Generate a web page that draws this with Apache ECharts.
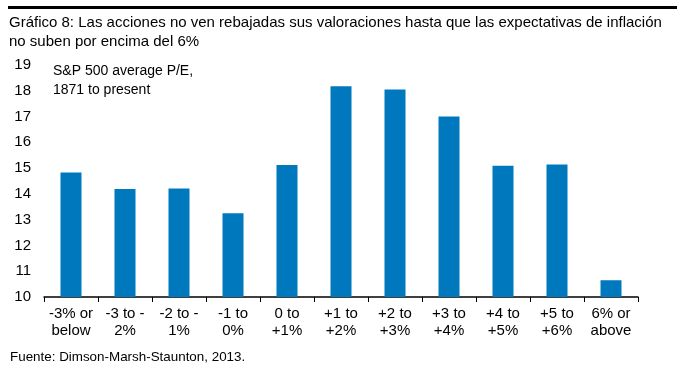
<!DOCTYPE html>
<html><head><meta charset="utf-8">
<script src="https://cdn.jsdelivr.net/npm/echarts@6/dist/echarts.min.js"></script>
<style>html,body{margin:0;padding:0;background:#fff}#c{width:681px;height:369px}</style>
</head><body><div id="c"></div>
<script>
const categories = ["-3% or\nbelow","-3 to -\n2%","-2 to -\n1%","-1 to\n0%","0 to\n+1%","+1 to\n+2%","+2 to\n+3%","+3 to\n+4%","+4 to\n+5%","+5 to\n+6%","6% or\nabove"];
const peValues = [14.83, 14.19, 14.21, 13.25, 15.12, 18.18, 18.05, 17.0, 15.09, 15.14, 10.65];
const titleLines = ["Gráfico 8: Las acciones no ven rebajadas sus valoraciones hasta que las expectativas de inflación", "no suben por encima del 6%"];
const annotation = ["S&P 500 average P/E,", "1871 to present"];
const sourceText = "Fuente: Dimson-Marsh-Staunton, 2013.";
const font = "Liberation Sans, Arial, sans-serif";

const chart = echarts.init(document.getElementById('c'));
chart.setOption({
  animation: false,
  grid: {left: 44, top: 65, width: 594, height: 232, containLabel: false},
  xAxis: {
    type: 'category', data: categories,
    axisLine: {show: true, lineStyle: {color: '#000', width: 1.5}},
    axisTick: {show: true, interval: 0, length: 5, lineStyle: {color: '#000'}},
    axisLabel: {interval: 0, color: '#000', fontSize: 15, fontFamily: font, lineHeight: 17, margin: 8}
  },
  yAxis: {
    type: 'value', min: 10, max: 19, interval: 1,
    axisLine: {show: false}, axisTick: {show: false}, splitLine: {show: false},
    axisLabel: {color: '#000', fontSize: 15, fontFamily: font, margin: 13}
  },
  series: [{
    type: 'bar', data: peValues, barWidth: 21,
    itemStyle: {color: '#0078BE'}
  }],
  graphic: [
    {type: 'rect', shape: {x: 8, y: 6, width: 669, height: 3}, style: {fill: '#000'}},
    {type: 'text', left: 9, top: 13, style: {text: titleLines.join('\n'), font: '15px ' + font, fill: '#000', lineHeight: 19}},
    {type: 'text', left: 53, top: 62, style: {text: annotation.join('\n'), font: '14px ' + font, fill: '#000', lineHeight: 19}},
    {type: 'text', left: 10, top: 351, style: {text: sourceText, font: '13.4px ' + font, fill: '#000'}}
  ]
});
</script></body></html>
